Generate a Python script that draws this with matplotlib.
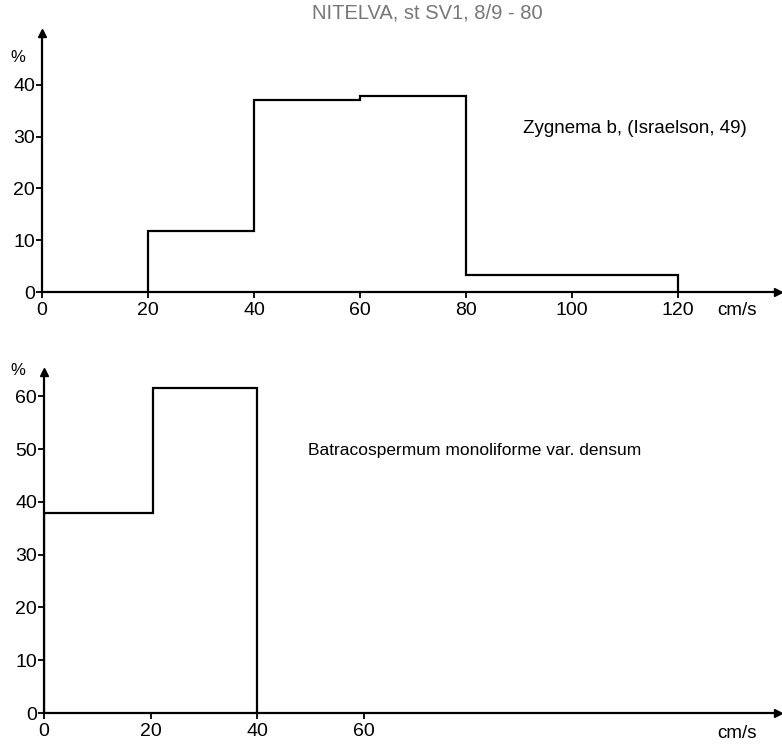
import matplotlib.pyplot as plt

plt.rcParams['font.family'] = ['Liberation Sans', 'DejaVu Sans']

# top panel: Zygnema b
top_edges = [20, 40, 60, 80, 120]
top_vals = [11.7, 37.1, 37.9, 3.3]
top_xticks = [0, 20, 40, 60, 80, 100, 120]
top_yticks = [0, 10, 20, 30, 40]

# bottom panel: Batracospermum
bot_edges = [0, 20.5, 40]
bot_vals = [37.8, 61.5]
bot_xticks = [0, 20, 40, 60]
bot_yticks = [0, 10, 20, 30, 40, 50, 60]

fig = plt.figure(figsize=(7.82, 7.45), dpi=100)
ax1 = fig.add_axes([42/782, 1-292/745, 736/782, 259/745])
ax2 = fig.add_axes([44/782, 1-713/745, 734/782, 341/745])

def style(ax, xmax, ymax, xticks, yticks):
    ax.set_xlim(0, xmax)
    ax.set_ylim(0, ymax)
    for s in ['top', 'right']:
        ax.spines[s].set_visible(False)
    for s in ['left', 'bottom']:
        ax.spines[s].set_linewidth(1.6)
    ax.set_xticks(xticks)
    ax.set_yticks(yticks)
    ax.tick_params(axis='both', direction='out', length=4, width=1.3, labelsize=14)
    ax.tick_params(axis='x', pad=3)
    ax.tick_params(axis='y', pad=1)
    # arrow heads at axis ends
    ax.plot(1, 0, '>k', ms=6, transform=ax.transAxes, clip_on=False)
    ax.plot(0, 1, '^k', ms=6, transform=ax.transAxes, clip_on=False)

style(ax1, 736/5.3, 50, top_xticks, top_yticks)
style(ax2, 734/5.33, 64.6, bot_xticks, bot_yticks)

ax1.stairs(top_vals, top_edges, baseline=0, color='black', lw=1.6)
ax2.stairs(bot_vals, bot_edges, baseline=0, color='black', lw=1.6)

ax1.text(0.654, 0.63, 'Zygnema b, (Israelson, 49)', transform=ax1.transAxes,
         fontsize=13.5, va='center', ha='left')
ax2.text(0.36, 0.77, 'Batracospermum monoliforme var. densum', transform=ax2.transAxes,
         fontsize=12.5, va='center', ha='left')

fig.text(10/782, 1-58/745, '%', fontsize=12, ha='left', va='center')
fig.text(10/782, 1-371/745, '%', fontsize=12, ha='left', va='center')
fig.text(737/782, 1-310/745, 'cm/s', fontsize=13.5, ha='center', va='center')
fig.text(737/782, 1-733/745, 'cm/s', fontsize=13.5, ha='center', va='center')

fig.text(427/782, 1-13/745, 'NITELVA, st SV1, 8/9 - 80', fontsize=14.5,
         color='#777777', ha='center', va='center')

fig.savefig('out.png', dpi=100)
